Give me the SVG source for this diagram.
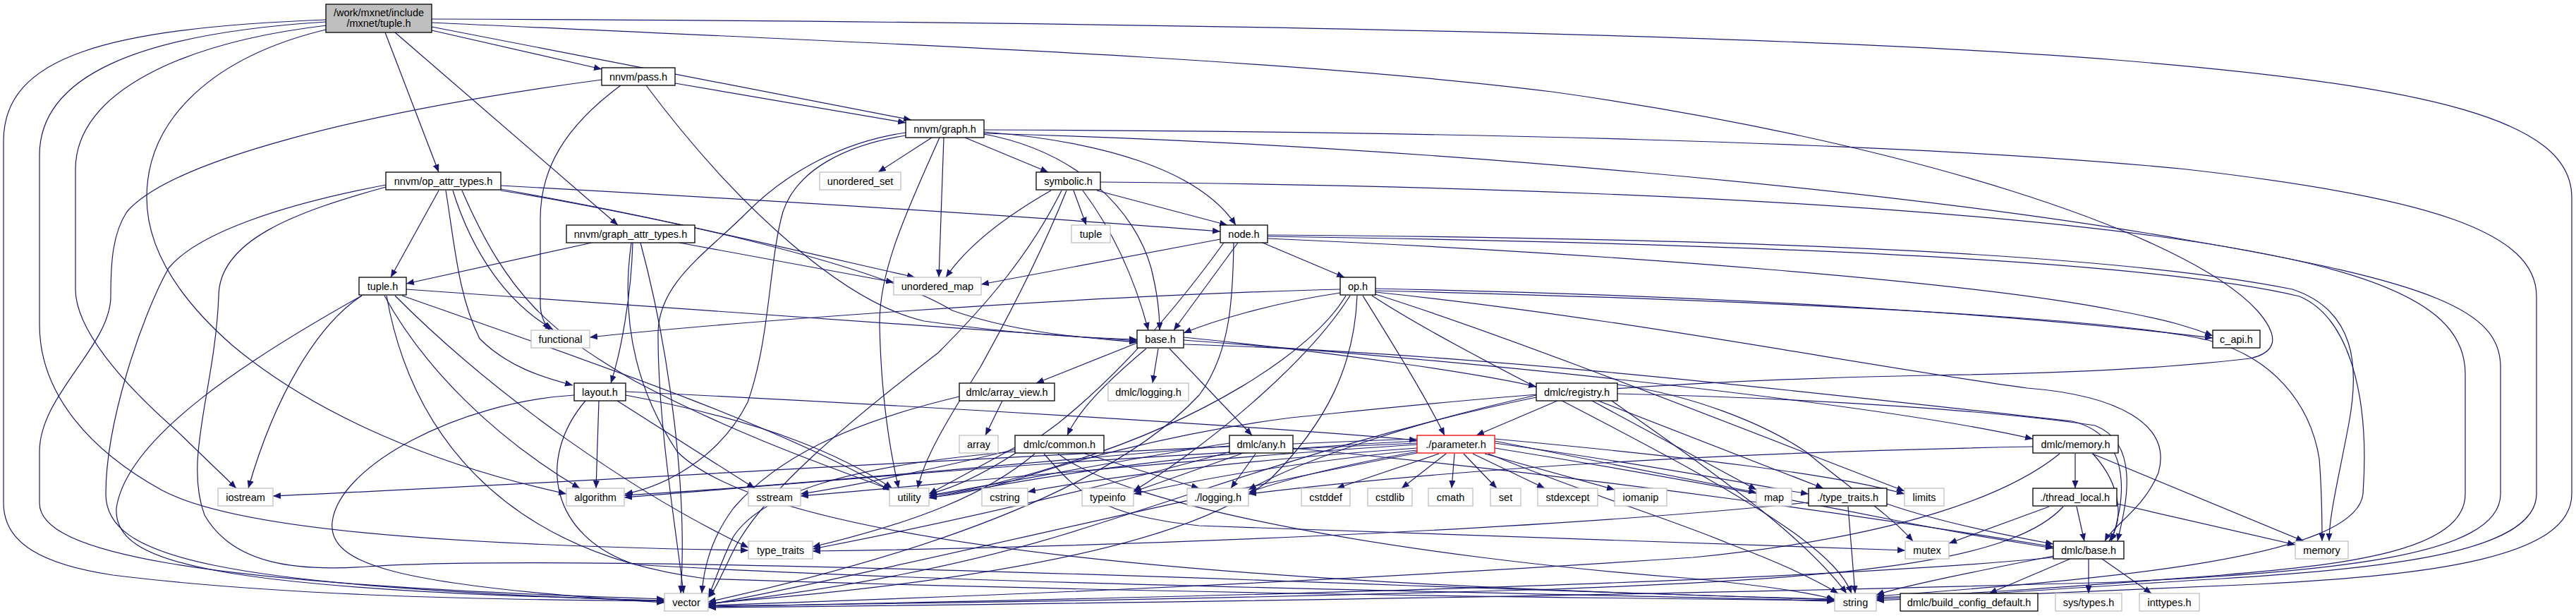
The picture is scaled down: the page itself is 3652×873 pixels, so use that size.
<svg xmlns="http://www.w3.org/2000/svg" width="3652" height="873" viewBox="0 0 3652 873">
<style>
.e path{fill:none;stroke:#191970;stroke-width:1.2;marker-end:url(#a)}
.n rect{fill:#fff;stroke:#000;stroke-width:1.3}
.l rect{fill:#fff;stroke:#bfbfbf;stroke-width:1.3}
.r rect{stroke:#ff0000}
text{font-family:"Liberation Sans",Arial,sans-serif;font-size:14.5px;text-anchor:middle;fill:#000}
</style>
<defs>
<marker id="a" viewBox="0 0 11 9" refX="11" refY="4.5" markerWidth="11" markerHeight="9" markerUnits="userSpaceOnUse" orient="auto"><path d="M0,0 L11,4.5 L0,9 z" fill="#191970"/></marker>
</defs>
<rect width="3652" height="873" fill="#fff"/>
<g id="connectors" class="e">
<path d="M462,28 C150,40 5,80 5,200 L5,713 C5,770 60,800 160,815 C400,845 700,850 942,852"/>
<path d="M462,31 C190,48 56,110 56,220 L56,460 C56,560 130,640 230,695 C330,748 600,772 1061,780"/>
<path d="M463,36 C260,60 107,130 107,240 L107,410 C107,465 170,540 250,610 L335,692"/>
<path d="M466,41 C300,80 208,170 208,280 C208,350 250,420 330,490 C450,590 620,660 803,700"/>
<path d="M546,46 L622,244"/>
<path d="M560,46 L876,319"/>
<path d="M612,43 L853,98"/>
<path d="M612,38 L1292,170"/>
<path d="M612,27 C1500,30 2500,45 3000,85 C3450,122 3646,170 3646,280 L3646,700 C3646,790 3450,815 3200,828 C3000,838 2800,846 2660,851"/>
<path d="M612,32 C1200,60 1800,80 2200,130 C2700,200 3100,330 3200,440 C3235,480 3225,500 3190,508 C3050,525 2880,530 2732,532 C2300,540 2000,575 1830,592 C1650,615 1500,660 1440,680 C1390,695 1350,702 1317,705"/>
<path d="M853,113 C500,160 240,230 180,300 C160,330 157,370 157,420 C157,490 56,560 56,640 L56,713 C56,780 250,828 942,849"/>
<path d="M880,121 C800,180 766,240 766,310 L766,430 C766,448 772,458 779,468"/>
<path d="M916,121 C1050,300 1200,430 1310,455 C1450,475 1550,479 1612,481"/>
<path d="M957,118 L1284,174"/>
<path d="M1321,195 L1245,244"/>
<path d="M1332,195 C1290,290 1246,380 1247,460 C1249,560 1262,640 1274,692"/>
<path d="M1338,195 L1331,393"/>
<path d="M1368,195 L1486,244"/>
<path d="M1395,187 C1560,200 1700,240 1752,319"/>
<path d="M1395,190 C1530,215 1610,300 1632,380 C1642,420 1644,450 1644,468"/>
<path d="M1284,188 C1200,200 1120,240 1060,300 C1000,360 935,400 933,470 C932,600 960,760 969,841"/>
<path d="M1284,192 C1200,205 1130,240 1110,300 C1090,370 1092,480 1060,570 C1020,650 940,690 886,700"/>
<path d="M1395,184 C2000,186 2700,200 3100,240 C3450,280 3596,330 3596,420 L3596,700 C3596,780 3400,805 3150,820 C2950,832 2800,844 2660,849"/>
<path d="M1395,189 C2000,205 2700,270 3100,340 C3450,400 3545,440 3545,520 L3545,700 C3545,790 3300,810 3000,825 C2300,845 1500,856 1004,861"/>
<path d="M1522,270 L1540,319"/>
<path d="M1555,270 L1740,319"/>
<path d="M1490,270 C1420,310 1370,350 1341,393"/>
<path d="M1535,270 C1580,330 1610,400 1628,468"/>
<path d="M1512,270 C1480,350 1440,430 1390,520 C1340,600 1310,650 1301,692"/>
<path d="M1505,270 C1460,360 1400,430 1330,500 C1200,600 1080,700 1040,780 C1025,810 1015,835 1004,847"/>
<path d="M1560,258 C2300,265 3000,300 3300,380 C3450,420 3495,470 3495,530 L3495,700 C3495,780 3330,800 3150,815 C2950,830 2800,842 2660,847"/>
<path d="M1730,339 L1391,403"/>
<path d="M1755,344 L1664,468"/>
<path d="M1790,344 L1906,393"/>
<path d="M1797,338 C2300,360 2800,400 3000,440 C3080,455 3110,465 3137,476"/>
<path d="M1797,333 C2500,338 3000,360 3250,410 C3340,440 3345,520 3330,600 C3315,680 3302,730 3302,767"/>
<path d="M1797,335 C2500,345 3050,370 3260,420 C3330,450 3360,560 3350,700 C3340,790 3000,820 2660,845"/>
<path d="M1749,344 C1748,420 1745,500 1700,560 C1550,720 1200,810 1004,853"/>
<path d="M1735,344 C1680,420 1600,520 1500,600 C1420,660 1360,690 1317,700"/>
<path d="M1900,410 C1500,420 1000,460 836,478"/>
<path d="M1900,415 C1800,430 1720,455 1678,472"/>
<path d="M1932,419 C1970,480 2020,560 2048,617"/>
<path d="M1908,419 C1860,500 1700,600 1500,660 C1420,685 1360,698 1317,703"/>
<path d="M1924,419 C1920,520 1880,600 1800,680 C1650,800 1200,840 1004,855"/>
<path d="M1950,417 C2150,480 2450,600 2700,696"/>
<path d="M1945,419 C2100,520 2400,650 2550,760 C2590,790 2615,815 2625,841"/>
<path d="M1914,419 C1850,520 1700,640 1607,696"/>
<path d="M1950,409 C2500,420 2900,450 3137,479"/>
<path d="M1950,412 C2500,425 3000,450 3130,482 C3220,505 3275,570 3288,650 C3292,700 3292,740 3292,767"/>
<path d="M1950,414 C2300,450 2650,520 2874,550 C3000,560 3080,600 3060,670 C3040,720 2995,745 2984,767"/>
<path d="M1612,486 L1469,543"/>
<path d="M1642,494 L1634,543"/>
<path d="M1625,494 C1570,540 1530,580 1513,617"/>
<path d="M1658,494 L1775,617"/>
<path d="M1678,478 C1900,500 2100,530 2178,548"/>
<path d="M1678,482 C2200,520 2700,580 2882,622"/>
<path d="M1678,488 C2100,500 2600,560 2938,597 C3030,620 3010,720 2993,767"/>
<path d="M1421,568 L1397,617"/>
<path d="M1360,562 C1200,600 1100,650 1040,720 C1010,760 998,800 995,841"/>
<path d="M1439,634 L1317,700"/>
<path d="M1439,637 C1300,670 1200,690 1135,700"/>
<path d="M1538,643 L1700,692"/>
<path d="M1467,643 C1400,700 1300,740 1152,775"/>
<path d="M1439,640 C1200,660 1080,700 1040,760 C1020,800 1012,830 1004,845"/>
<path d="M1500,643 C1600,720 2000,790 2400,820 C2500,830 2570,840 2601,850"/>
<path d="M1480,643 C1530,700 1560,730 1700,745 C2100,760 2500,772 2701,780"/>
<path d="M1780,643 L1745,692"/>
<path d="M1760,643 L1607,697"/>
<path d="M1743,628 C1600,650 1450,680 1317,702"/>
<path d="M1745,640 C1600,680 1400,730 1152,778"/>
<path d="M1743,632 C1400,660 1100,690 885,702"/>
<path d="M1833,635 C2300,680 2700,740 2911,775"/>
<path d="M2040,643 L1895,692"/>
<path d="M2050,643 L1987,692"/>
<path d="M2062,643 L2058,692"/>
<path d="M2075,643 L2122,692"/>
<path d="M2088,643 L2190,692"/>
<path d="M2105,643 L2289,694"/>
<path d="M2119,625 C2300,660 2450,690 2490,698"/>
<path d="M2119,628 C2350,660 2500,690 2564,700"/>
<path d="M2119,622 C2400,648 2600,672 2700,700"/>
<path d="M2110,643 C2250,700 2380,740 2450,770 C2530,800 2580,825 2606,841"/>
<path d="M2119,635 C2400,680 2600,720 2700,740 C2800,760 2870,770 2911,777"/>
<path d="M2009,630 C1700,650 1400,680 1135,703"/>
<path d="M2009,625 C1700,640 1500,670 1317,706"/>
<path d="M2009,635 C1800,650 1600,670 1457,697"/>
<path d="M2009,638 C1800,660 1700,680 1607,700"/>
<path d="M2009,640 C1900,660 1820,680 1770,698"/>
<path d="M2009,628 C1500,650 1200,680 885,705"/>
<path d="M2009,622 C1500,640 900,680 387,703"/>
<path d="M2009,642 C1700,700 1300,800 1004,857"/>
<path d="M2208,568 L2093,617"/>
<path d="M2257,568 L2490,694"/>
<path d="M2266,568 L2585,692"/>
<path d="M2293,558 C2600,565 2850,585 2970,603 C3040,630 3010,730 3002,767"/>
<path d="M2293,545 C2400,560 2500,600 2560,640 C2620,690 2680,730 2712,767"/>
<path d="M2178,560 C2000,600 1850,650 1770,694"/>
<path d="M2178,563 C1900,620 1700,700 1500,760 C1300,820 1100,845 1004,856"/>
<path d="M2285,568 C2400,650 2550,750 2618,841"/>
<path d="M2942,643 L2942,692"/>
<path d="M2966,643 L3266,767"/>
<path d="M2967,643 C3010,690 3010,740 2990,767"/>
<path d="M2920,643 C2850,700 2700,760 2400,790 C1800,830 1300,848 1004,858"/>
<path d="M2882,633 C2500,640 2100,660 1770,700"/>
<path d="M2905,718 L2763,770"/>
<path d="M2944,718 L2955,767"/>
<path d="M3001,714 L3254,772"/>
<path d="M2925,718 C2850,800 2600,820 2200,835 C1700,850 1300,855 1004,859"/>
<path d="M2620,718 L2630,841"/>
<path d="M2564,712 C2200,750 1600,775 1152,781"/>
<path d="M2675,714 C2750,740 2850,760 2911,771"/>
<path d="M2935,792 L2820,841"/>
<path d="M2961,792 L2961,841"/>
<path d="M2980,792 L3050,841"/>
<path d="M2911,788 C2800,810 2700,830 2660,843"/>
<path d="M2911,790 C2500,830 1500,850 1004,860"/>
<path d="M849,568 L845,692"/>
<path d="M887,555 C1300,575 1800,605 2009,624"/>
<path d="M875,568 L1070,692"/>
<path d="M887,560 C1100,600 1200,650 1265,692"/>
<path d="M814,560 C650,570 480,660 471,740 C465,800 560,830 942,854"/>
<path d="M830,568 C760,650 780,760 900,800 C1400,830 2200,840 2601,852"/>
<path d="M513,419 C450,460 390,560 352,692"/>
<path d="M513,419 C350,510 180,620 165,720 C160,800 300,835 942,851"/>
<path d="M545,419 C600,520 700,620 822,692"/>
<path d="M570,419 C800,500 1100,600 1262,695"/>
<path d="M560,419 C700,560 900,700 1061,776"/>
<path d="M548,419 C580,600 700,780 1000,820 C1600,840 2200,847 2601,851"/>
<path d="M576,410 C1000,440 1400,470 1612,483"/>
<path d="M622,270 L554,393"/>
<path d="M710,263 C1200,290 1500,310 1730,328"/>
<path d="M710,270 C900,300 1150,360 1297,393"/>
<path d="M710,268 C1000,320 1250,380 1350,440 C1450,475 1560,480 1612,485"/>
<path d="M642,270 C670,360 720,430 784,467"/>
<path d="M632,270 C645,350 650,420 680,480 C720,520 770,535 812,546"/>
<path d="M655,270 C720,420 780,470 900,540 C1050,620 1200,670 1263,694"/>
<path d="M547,262 C400,290 280,330 239,380 C200,450 150,600 150,700 C150,790 300,830 942,852"/>
<path d="M547,265 C420,300 310,340 310,420 C305,550 260,650 290,730 C330,800 420,810 520,803 C700,790 1200,800 2000,830 C2300,840 2500,846 2601,850"/>
<path d="M839,344 L576,402"/>
<path d="M897,344 C895,420 880,500 866,543"/>
<path d="M963,344 L1267,400"/>
<path d="M908,344 C950,500 975,700 965,841"/>
<path d="M895,344 C880,450 900,550 960,640 C1100,780 1800,830 2601,849"/>
</g>
<g id="n_root" class="n"><rect x="462" y="6" width="150" height="40" style="fill:#bfbfbf"/><text x="537" y="22.5">/work/mxnet/include</text><text x="537" y="38">/mxnet/tuple.h</text></g>
<g id="n_pass" class="n"><rect x="853" y="96" width="104" height="25"/><text x="905" y="113.5">nnvm/pass.h</text></g>
<g id="n_graph" class="n"><rect x="1284" y="170" width="111" height="25"/><text x="1339.5" y="187.5">nnvm/graph.h</text></g>
<g id="n_op_attr_types" class="n"><rect x="547" y="244" width="163" height="25"/><text x="628.5" y="261.5">nnvm/op_attr_types.h</text></g>
<g id="n_unordered_set" class="l"><rect x="1162" y="244" width="115" height="25"/><text x="1219.5" y="261.5">unordered_set</text></g>
<g id="n_symbolic" class="n"><rect x="1469" y="244" width="91" height="25"/><text x="1514.5" y="261.5">symbolic.h</text></g>
<g id="n_graph_attr_types" class="n"><rect x="803" y="319" width="182" height="25"/><text x="894" y="336.5">nnvm/graph_attr_types.h</text></g>
<g id="n_tuple" class="l"><rect x="1519" y="319" width="55" height="25"/><text x="1546.5" y="336.5">tuple</text></g>
<g id="n_node" class="n"><rect x="1730" y="319" width="67" height="25"/><text x="1763.5" y="336.5">node.h</text></g>
<g id="n_tuple_h" class="n"><rect x="509" y="393" width="67" height="25"/><text x="542.5" y="410.5">tuple.h</text></g>
<g id="n_unordered_map" class="l"><rect x="1267" y="393" width="124" height="25"/><text x="1329" y="410.5">unordered_map</text></g>
<g id="n_op" class="n"><rect x="1900" y="393" width="50" height="25"/><text x="1925" y="410.5">op.h</text></g>
<g id="n_functional" class="l"><rect x="753" y="468" width="83" height="25"/><text x="794.5" y="485.5">functional</text></g>
<g id="n_base" class="n"><rect x="1612" y="468" width="66" height="25"/><text x="1645" y="485.5">base.h</text></g>
<g id="n_c_api" class="n"><rect x="3137" y="468" width="67" height="25"/><text x="3170.5" y="485.5">c_api.h</text></g>
<g id="n_layout" class="n"><rect x="814" y="543" width="73" height="25"/><text x="850.5" y="560.5">layout.h</text></g>
<g id="n_array_view" class="n"><rect x="1360" y="543" width="135" height="25"/><text x="1427.5" y="560.5">dmlc/array_view.h</text></g>
<g id="n_dmlc_logging" class="l"><rect x="1571" y="543" width="114" height="25"/><text x="1628" y="560.5">dmlc/logging.h</text></g>
<g id="n_registry" class="n"><rect x="2178" y="543" width="115" height="25"/><text x="2235.5" y="560.5">dmlc/registry.h</text></g>
<g id="n_array" class="l"><rect x="1360" y="617" width="55" height="25"/><text x="1387.5" y="634.5">array</text></g>
<g id="n_common" class="n"><rect x="1439" y="617" width="126" height="25"/><text x="1502" y="634.5">dmlc/common.h</text></g>
<g id="n_any" class="n"><rect x="1743" y="617" width="90" height="25"/><text x="1788" y="634.5">dmlc/any.h</text></g>
<g id="n_parameter" class="n r"><rect x="2009" y="617" width="110" height="25"/><text x="2064" y="634.5">./parameter.h</text></g>
<g id="n_dmlc_memory" class="n"><rect x="2882" y="617" width="121" height="25"/><text x="2942.5" y="634.5">dmlc/memory.h</text></g>
<g id="n_iostream" class="l"><rect x="309" y="692" width="78" height="25"/><text x="348" y="709.5">iostream</text></g>
<g id="n_algorithm" class="l"><rect x="803" y="692" width="82" height="25"/><text x="844" y="709.5">algorithm</text></g>
<g id="n_sstream" class="l"><rect x="1061" y="692" width="74" height="25"/><text x="1098" y="709.5">sstream</text></g>
<g id="n_utility" class="l"><rect x="1261" y="692" width="56" height="25"/><text x="1289" y="709.5">utility</text></g>
<g id="n_cstring" class="l"><rect x="1392" y="692" width="65" height="25"/><text x="1424.5" y="709.5">cstring</text></g>
<g id="n_typeinfo" class="l"><rect x="1534" y="692" width="73" height="25"/><text x="1570.5" y="709.5">typeinfo</text></g>
<g id="n_logging" class="l"><rect x="1683" y="692" width="87" height="25"/><text x="1726.5" y="709.5">./logging.h</text></g>
<g id="n_cstddef" class="l"><rect x="1845" y="692" width="69" height="25"/><text x="1879.5" y="709.5">cstddef</text></g>
<g id="n_cstdlib" class="l"><rect x="1939" y="692" width="63" height="25"/><text x="1970.5" y="709.5">cstdlib</text></g>
<g id="n_cmath" class="l"><rect x="2025" y="692" width="63" height="25"/><text x="2056.5" y="709.5">cmath</text></g>
<g id="n_set" class="l"><rect x="2113" y="692" width="43" height="25"/><text x="2134.5" y="709.5">set</text></g>
<g id="n_stdexcept" class="l"><rect x="2180" y="692" width="85" height="25"/><text x="2222.5" y="709.5">stdexcept</text></g>
<g id="n_iomanip" class="l"><rect x="2289" y="692" width="74" height="25"/><text x="2326" y="709.5">iomanip</text></g>
<g id="n_map" class="l"><rect x="2490" y="692" width="50" height="25"/><text x="2515" y="709.5">map</text></g>
<g id="n_type_traits_h" class="n"><rect x="2564" y="692" width="111" height="25"/><text x="2619.5" y="709.5">./type_traits.h</text></g>
<g id="n_limits" class="l"><rect x="2700" y="692" width="56" height="25"/><text x="2728" y="709.5">limits</text></g>
<g id="n_thread_local" class="n"><rect x="2882" y="692" width="119" height="25"/><text x="2941.5" y="709.5">./thread_local.h</text></g>
<g id="n_type_traits" class="l"><rect x="1061" y="767" width="91" height="25"/><text x="1106.5" y="784.5">type_traits</text></g>
<g id="n_mutex" class="l"><rect x="2701" y="767" width="62" height="25"/><text x="2732" y="784.5">mutex</text></g>
<g id="n_dmlc_base" class="n"><rect x="2911" y="767" width="100" height="25"/><text x="2961" y="784.5">dmlc/base.h</text></g>
<g id="n_memory" class="l"><rect x="3254" y="767" width="75" height="25"/><text x="3291.5" y="784.5">memory</text></g>
<g id="n_vector" class="l"><rect x="942" y="841" width="62" height="25"/><text x="973" y="858.5">vector</text></g>
<g id="n_string" class="l"><rect x="2601" y="841" width="59" height="25"/><text x="2630.5" y="858.5">string</text></g>
<g id="n_build_config" class="n"><rect x="2694" y="841" width="195" height="25"/><text x="2791.5" y="858.5">dmlc/build_config_default.h</text></g>
<g id="n_sys_types" class="l"><rect x="2914" y="841" width="94" height="25"/><text x="2961" y="858.5">sys/types.h</text></g>
<g id="n_inttypes" class="l"><rect x="3033" y="841" width="85" height="25"/><text x="3075.5" y="858.5">inttypes.h</text></g>
</svg>
